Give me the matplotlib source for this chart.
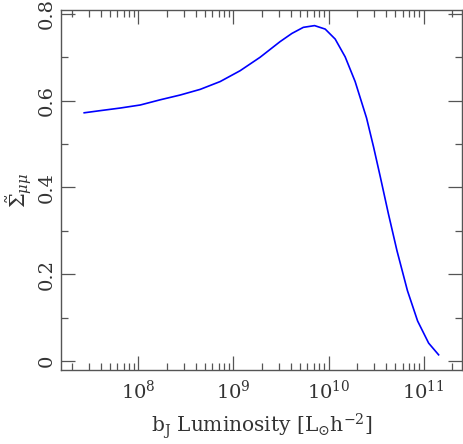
import numpy as np
import matplotlib
matplotlib.use("Agg")
import matplotlib.pyplot as plt
from matplotlib.ticker import LogLocator, MultipleLocator, FixedLocator, NullFormatter

# data (log10 luminosity, Sigma_mumu)
log_lum = [7.43, 7.60, 7.81, 8.02, 8.23, 8.44, 8.65, 8.86, 9.07, 9.28, 9.49, 9.615,
           9.735, 9.853, 9.965, 10.07, 10.175, 10.28, 10.40, 10.474, 10.545, 10.63,
           10.72, 10.83, 10.937, 11.053, 11.158]
sigma = [0.572, 0.577, 0.583, 0.590, 0.602, 0.613, 0.626, 0.644, 0.669, 0.700, 0.736,
         0.755, 0.769, 0.773, 0.765, 0.742, 0.701, 0.644, 0.560, 0.493, 0.424, 0.339,
         0.254, 0.162, 0.092, 0.041, 0.014]
lum = [10 ** v for v in log_lum]

yticks = [0, 0.2, 0.4, 0.6, 0.8]
ytick_labels = ["0", "0.2", "0.4", "0.6", "0.8"]

plt.rcParams['mathtext.fontset'] = 'dejavuserif'
plt.rcParams['font.family'] = ['DejaVu Serif']

fig = plt.figure(figsize=(4.63, 4.44), dpi=100)
ax = fig.add_axes([61/463, 74/444, 401/463, 360/444])
ax.plot(lum, sigma, color='#0000ff', lw=1.2)
ax.set_xscale('log')
ax.set_xlim(10 ** 7.186, 10 ** 11.404)
ax.set_ylim(-0.021, 0.809)

ax.xaxis.set_major_locator(FixedLocator([1e8, 1e9, 1e10, 1e11]))
ax.set_xticklabels([r"$10^{8}$", r"$10^{9}$", r"$10^{10}$", r"$10^{11}$"])
ax.xaxis.set_minor_locator(LogLocator(base=10, subs=np.arange(2, 10), numticks=20))
ax.xaxis.set_minor_formatter(NullFormatter())
ax.set_yticks(yticks)
ax.set_yticklabels(ytick_labels, rotation=90, va='center')
ax.yaxis.set_minor_locator(MultipleLocator(0.1))

gray = '#555555'
for s in ax.spines.values():
    s.set_color(gray)
    s.set_linewidth(1.0)
ax.tick_params(which='both', direction='in', top=True, right=True, colors=gray,
               labelcolor='#333333', labelsize=14, width=0.9)
ax.tick_params(which='major', length=10)
ax.tick_params(axis='y', which='major', pad=4)
ax.tick_params(axis='x', which='major', pad=7)
ax.tick_params(which='minor', length=5)

ax.set_xlabel(r"b$_{\rm J}$ Luminosity [L$_{\odot}$h$^{-2}$]", fontsize=14.5, color='#333333', labelpad=6)
ax.set_ylabel(r"$\tilde{\Sigma}_{\mu\mu}$", fontsize=15, color='#333333', labelpad=2)

fig.savefig("out.png", dpi=100)
